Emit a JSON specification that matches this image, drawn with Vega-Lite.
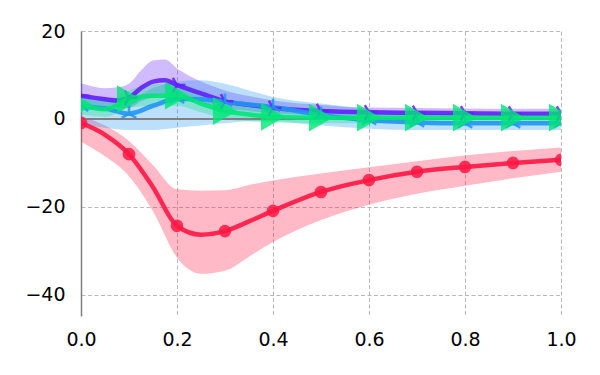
{
  "$schema": "https://vega.github.io/schema/vega-lite/v6.json",
  "width": 480,
  "height": 285,
  "autosize": "none",
  "padding": {"left": 81, "top": 31, "right": 39, "bottom": 59},
  "background": "white",
  "config": {
    "view": {"stroke": null},
    "font": "DejaVu Sans",
    "axis": {
      "labelFont": "DejaVu Sans",
      "labelFontSize": 19,
      "labelColor": "#000000",
      "labelFlush": false,
      "labelOverlap": false,
      "ticks": false,
      "grid": true,
      "gridColor": "#b0b0b0",
      "gridDash": [4, 2.5],
      "gridWidth": 0.9,
      "title": null
    }
  },
  "datasets": {
    "d": [
      {"s": "red", "x": 0, "y": -0.9, "lo": -5.2, "hi": 0.6},
      {"s": "red", "x": 0.05, "y": -3.6, "lo": -8.5, "hi": -1.5},
      {"s": "red", "x": 0.1, "y": -8, "lo": -13, "hi": -5},
      {"s": "red", "x": 0.15, "y": -15.5, "lo": -21, "hi": -10.5},
      {"s": "red", "x": 0.2, "y": -24.3, "lo": -31.5, "hi": -16},
      {"s": "red", "x": 0.25, "y": -26.3, "lo": -35.2, "hi": -16.3},
      {"s": "red", "x": 0.3, "y": -25.5, "lo": -34.5, "hi": -16.2},
      {"s": "red", "x": 0.35, "y": -23.3, "lo": -31.3, "hi": -15},
      {"s": "red", "x": 0.4, "y": -20.9, "lo": -28, "hi": -14},
      {"s": "red", "x": 0.5, "y": -16.6, "lo": -23, "hi": -12.4},
      {"s": "red", "x": 0.6, "y": -13.9, "lo": -19.5, "hi": -11},
      {"s": "red", "x": 0.7, "y": -12, "lo": -17, "hi": -9.6},
      {"s": "red", "x": 0.8, "y": -10.9, "lo": -15.2, "hi": -8.3},
      {"s": "red", "x": 0.9, "y": -10, "lo": -13.5, "hi": -7.3},
      {"s": "red", "x": 1.0, "y": -9.3, "lo": -12, "hi": -6.5},

      {"s": "purple", "x": 0, "y": 5.3, "lo": 3, "hi": 8.1},
      {"s": "purple", "x": 0.05, "y": 4.5, "lo": 2.5, "hi": 7},
      {"s": "purple", "x": 0.075, "y": 4.2, "lo": 2.4, "hi": 7.2},
      {"s": "purple", "x": 0.1, "y": 4.8, "lo": 2.5, "hi": 8},
      {"s": "purple", "x": 0.125, "y": 7, "lo": 4, "hi": 11},
      {"s": "purple", "x": 0.15, "y": 8.5, "lo": 5, "hi": 13.3},
      {"s": "purple", "x": 0.175, "y": 8.8, "lo": 5.5, "hi": 13.5},
      {"s": "purple", "x": 0.2, "y": 7.7, "lo": 4.8, "hi": 11.5},
      {"s": "purple", "x": 0.25, "y": 5.8, "lo": 3.5, "hi": 8.5},
      {"s": "purple", "x": 0.3, "y": 4.0, "lo": 2.5, "hi": 6.5},
      {"s": "purple", "x": 0.35, "y": 3.2, "lo": 1.8, "hi": 5.2},
      {"s": "purple", "x": 0.4, "y": 2.5, "lo": 1.3, "hi": 4.2},
      {"s": "purple", "x": 0.5, "y": 1.8, "lo": 0.8, "hi": 3.2},
      {"s": "purple", "x": 0.6, "y": 1.5, "lo": 0.6, "hi": 2.6},
      {"s": "purple", "x": 0.7, "y": 1.4, "lo": 0.6, "hi": 2.5},
      {"s": "purple", "x": 0.8, "y": 1.3, "lo": 0.5, "hi": 2.4},
      {"s": "purple", "x": 0.9, "y": 1.2, "lo": 0.5, "hi": 2.3},
      {"s": "purple", "x": 1.0, "y": 1.2, "lo": 0.5, "hi": 2.3},

      {"s": "blue", "x": 0, "y": 2.8, "lo": -1.4, "hi": 5.5},
      {"s": "blue", "x": 0.05, "y": 2.4, "lo": -2, "hi": 5},
      {"s": "blue", "x": 0.1, "y": 1.2, "lo": -2.5, "hi": 4.5},
      {"s": "blue", "x": 0.15, "y": 3.0, "lo": -2.5, "hi": 7},
      {"s": "blue", "x": 0.2, "y": 4.6, "lo": -2, "hi": 8.5},
      {"s": "blue", "x": 0.25, "y": 4.5, "lo": -1.5, "hi": 8.8},
      {"s": "blue", "x": 0.3, "y": 3.9, "lo": -1, "hi": 8},
      {"s": "blue", "x": 0.35, "y": 3.3, "lo": -0.5, "hi": 6.5},
      {"s": "blue", "x": 0.4, "y": 2.7, "lo": -0.5, "hi": 5},
      {"s": "blue", "x": 0.5, "y": 0.9, "lo": -1.5, "hi": 3.5},
      {"s": "blue", "x": 0.6, "y": -0.3, "lo": -2.2, "hi": 2.2},
      {"s": "blue", "x": 0.7, "y": -0.8, "lo": -2.5, "hi": 1.5},
      {"s": "blue", "x": 0.8, "y": -1.0, "lo": -2.5, "hi": 1},
      {"s": "blue", "x": 0.9, "y": -1.0, "lo": -2.5, "hi": 0.7},
      {"s": "blue", "x": 1.0, "y": -1.0, "lo": -2.5, "hi": 0.5},

      {"s": "green", "x": 0, "y": 3.2, "lo": 1, "hi": 5},
      {"s": "green", "x": 0.05, "y": 2.2, "lo": 0.5, "hi": 4},
      {"s": "green", "x": 0.1, "y": 4.5, "lo": 2.5, "hi": 6.5},
      {"s": "green", "x": 0.15, "y": 5.3, "lo": 3, "hi": 8},
      {"s": "green", "x": 0.2, "y": 5.3, "lo": 3, "hi": 8},
      {"s": "green", "x": 0.25, "y": 3.5, "lo": 1.5, "hi": 6},
      {"s": "green", "x": 0.3, "y": 1.8, "lo": 0, "hi": 4},
      {"s": "green", "x": 0.35, "y": 1.0, "lo": -0.5, "hi": 2.8},
      {"s": "green", "x": 0.4, "y": 0.5, "lo": -0.8, "hi": 2},
      {"s": "green", "x": 0.5, "y": 0.3, "lo": -1, "hi": 1.5},
      {"s": "green", "x": 0.6, "y": 0.3, "lo": -1, "hi": 1.4},
      {"s": "green", "x": 0.7, "y": 0.3, "lo": -1, "hi": 1.3},
      {"s": "green", "x": 0.8, "y": 0.3, "lo": -1, "hi": 1.3},
      {"s": "green", "x": 0.9, "y": 0.3, "lo": -1, "hi": 1.3},
      {"s": "green", "x": 1.0, "y": 0.3, "lo": -1, "hi": 1.3}
    ],
    "m": [
      {"s": "red", "x": 0, "y": -0.9},
      {"s": "red", "x": 0.1, "y": -8},
      {"s": "red", "x": 0.2, "y": -24.3},
      {"s": "red", "x": 0.3, "y": -25.5},
      {"s": "red", "x": 0.4, "y": -20.9},
      {"s": "red", "x": 0.5, "y": -16.6},
      {"s": "red", "x": 0.6, "y": -13.9},
      {"s": "red", "x": 0.7, "y": -12},
      {"s": "red", "x": 0.8, "y": -10.9},
      {"s": "red", "x": 0.9, "y": -10},
      {"s": "red", "x": 1.0, "y": -9.3},
      {"s": "purple", "x": 0, "y": 5.3},
      {"s": "purple", "x": 0.1, "y": 4.8},
      {"s": "purple", "x": 0.2, "y": 7.7},
      {"s": "purple", "x": 0.3, "y": 4.0},
      {"s": "purple", "x": 0.4, "y": 2.5},
      {"s": "purple", "x": 0.5, "y": 1.8},
      {"s": "purple", "x": 0.6, "y": 1.5},
      {"s": "purple", "x": 0.7, "y": 1.4},
      {"s": "purple", "x": 0.8, "y": 1.3},
      {"s": "purple", "x": 0.9, "y": 1.2},
      {"s": "purple", "x": 1.0, "y": 1.2},
      {"s": "blue", "x": 0, "y": 2.8},
      {"s": "blue", "x": 0.1, "y": 1.2},
      {"s": "blue", "x": 0.2, "y": 4.6},
      {"s": "blue", "x": 0.3, "y": 3.9},
      {"s": "blue", "x": 0.4, "y": 2.7},
      {"s": "blue", "x": 0.5, "y": 0.9},
      {"s": "blue", "x": 0.6, "y": -0.3},
      {"s": "blue", "x": 0.7, "y": -0.8},
      {"s": "blue", "x": 0.8, "y": -1.0},
      {"s": "blue", "x": 0.9, "y": -1.0},
      {"s": "blue", "x": 1.0, "y": -1.0},
      {"s": "green", "x": 0, "y": 3.2},
      {"s": "green", "x": 0.1, "y": 4.5},
      {"s": "green", "x": 0.2, "y": 5.3},
      {"s": "green", "x": 0.3, "y": 1.8},
      {"s": "green", "x": 0.4, "y": 0.5},
      {"s": "green", "x": 0.5, "y": 0.3},
      {"s": "green", "x": 0.6, "y": 0.3},
      {"s": "green", "x": 0.7, "y": 0.3},
      {"s": "green", "x": 0.8, "y": 0.3},
      {"s": "green", "x": 0.9, "y": 0.3},
      {"s": "green", "x": 1.0, "y": 0.3}
    ]
  },
  "encoding": {
    "x": {
      "field": "x", "type": "quantitative",
      "scale": {"domain": [0, 1], "nice": false, "zero": false},
      "axis": {"values": [0, 0.2, 0.4, 0.6, 0.8, 1.0], "format": ".1f", "domain": false, "labelPadding": 14}
    },
    "y": {
      "field": "y", "type": "quantitative",
      "scale": {"domain": [-44.8, 20], "nice": false, "zero": false},
      "axis": {
        "values": [-40, -20, 0, 20],
        "labelExpr": "datum.value < 0 ? '\u2212' + format(-datum.value, 'd') : format(datum.value, 'd')",
        "domain": true, "domainColor": "#808080", "domainWidth": 1.5, "labelPadding": 16
      }
    },
    "color": {
      "field": "s", "type": "nominal",
      "scale": {"domain": ["red", "purple", "blue", "green"], "range": ["#ff1744", "#651fff", "#2196f3", "#00e676"]},
      "legend": null
    }
  },
  "layer": [
    {
      "data": {"name": "d"},
      "mark": {"type": "area", "interpolate": "monotone", "opacity": 0.3, "clip": true},
      "encoding": {
        "y": {"field": "lo", "type": "quantitative"},
        "y2": {"field": "hi"}
      }
    },
    {
      "data": {"values": [{"z": 0}]},
      "mark": {"type": "rule", "color": "#808080", "strokeWidth": 2, "clip": true},
      "encoding": {"y": {"field": "z", "type": "quantitative"}, "x": {"value": 0}, "x2": {"value": 480}, "color": {"value": "#808080"}}
    },
    {
      "data": {"name": "d"},
      "mark": {"type": "line", "interpolate": "monotone", "strokeWidth": 4.5, "opacity": 0.9, "clip": true},
      "encoding": {}
    },
    {
      "data": {"name": "m"},
      "transform": [{"filter": "datum.s === 'red'"}],
      "mark": {"type": "point", "shape": "circle", "filled": true, "size": 160, "opacity": 0.85, "clip": true},
      "encoding": {}
    },
    {
      "data": {"name": "m"},
      "transform": [{"filter": "datum.s === 'purple'"}],
      "mark": {"type": "point", "shape": "M0,0L1,0M0,0L-0.5,-0.866M0,0L-0.5,0.866", "filled": false, "size": 280, "strokeWidth": 2.5, "opacity": 0.85, "clip": true},
      "encoding": {}
    },
    {
      "data": {"name": "m"},
      "transform": [{"filter": "datum.s === 'blue'"}],
      "mark": {"type": "point", "shape": "M0,0L0,-1M0,0L-0.866,0.5M0,0L0.866,0.5", "filled": false, "size": 280, "strokeWidth": 2.5, "opacity": 0.85, "clip": true},
      "encoding": {}
    },
    {
      "data": {"name": "m"},
      "transform": [{"filter": "datum.s === 'green'"}],
      "mark": {"type": "point", "shape": "triangle-right", "filled": true, "size": 780, "opacity": 0.8, "clip": true},
      "encoding": {}
    }
  ]
}
